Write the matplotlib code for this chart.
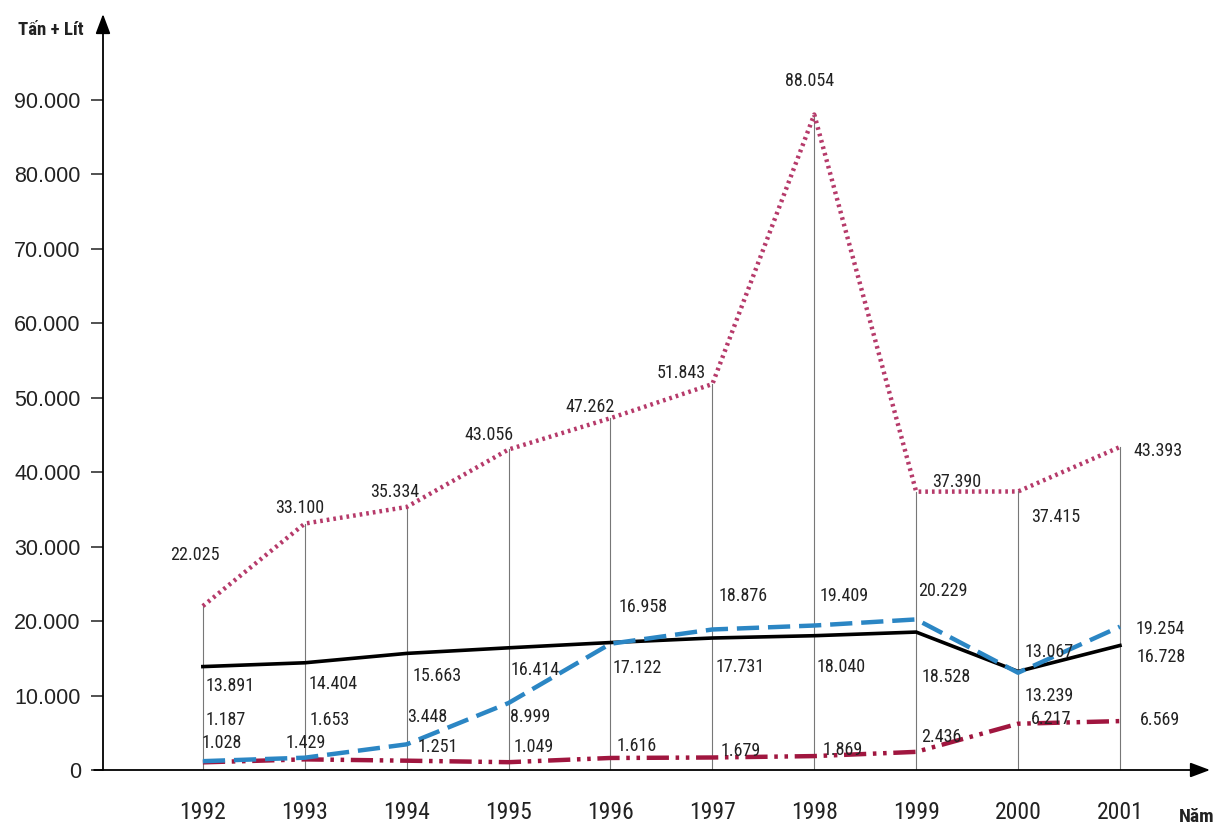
import matplotlib
matplotlib.use("Agg")
import matplotlib.pyplot as plt
from matplotlib.ticker import FixedLocator, FuncFormatter
from matplotlib import font_manager as fm

years = [1992, 1993, 1994, 1995, 1996, 1997, 1998, 1999, 2000, 2001]
dotted_vals = [22025, 33100, 35334, 43056, 47262, 51843, 88054, 37390, 37415, 43393]
black_vals = [13891, 14404, 15663, 16414, 17122, 17731, 18040, 18528, 13239, 16728]
blue_vals = [1187, 1653, 3448, 8999, 16958, 18876, 19409, 20229, 13067, 19254]
red_vals = [1028, 1429, 1251, 1049, 1616, 1679, 1869, 2436, 6217, 6569]
y_ticks = [0, 10000, 20000, 30000, 40000, 50000, 60000, 70000, 80000, 90000]

# label offsets in pixels (dx, dy)
dotted_off = [(-8, 51), (-5, 16), (-12, 15), (-20, 14), (-20, 11), (-31, 11), (-5, 34), (41, 10), (38, -26), (38, -4)]
black_off = [(27, -19), (28, -21), (30, -23), (27, -22), (27, -25), (28, -29), (27, -31), (30, -45), (31, -25), (41, -12)]
blue_off = [(23, 41), (25, 38), (21, 27), (22, -14), (33, 37), (31, 33), (30, 30), (27, 28), (31, 21), (40, -2)]
red_off = [(19, 19), (1, 16), (31, 14), (25, 15), (26, 12), (28, 7), (28, 6), (25, 15), (33, 5), (40, 1)]

# choose a condensed font if one is installed
entries = fm.fontManager.ttflist
names = {f.name for f in entries}
NARROW_PROPS = dict(family=['Liberation Sans', 'DejaVu Sans'])
for cand in ['Roboto Condensed', 'Liberation Sans Narrow', 'Open Sans Condensed', 'Noto Sans Condensed',
             'DejaVu Sans Condensed', 'Arial Narrow']:
    if cand in names:
        NARROW_PROPS = dict(family=[cand, 'DejaVu Sans'])
        break
REG = ['Liberation Sans', 'DejaVu Sans']

def fmt(v):
    return f"{v:,}".replace(",", ".")

W, H = 1218, 833
fig = plt.figure(figsize=(W / 100, H / 100), dpi=100)
fig.patch.set_facecolor('white')
ax = fig.add_axes([103 / W, (H - 770) / H, (1210 - 103) / W, (770 - 14) / H])
ax.set_xlim(1991.02, 1991.02 + 1107 / 101.9)
ax.set_ylim(0, 756 / 74.44 * 10000)
for s in ax.spines.values():
    s.set_visible(False)

# axes with arrows
ax.annotate('', xy=(1.0, 0), xytext=(-0.008, 0), xycoords='axes fraction',
            arrowprops=dict(arrowstyle='-|>,head_length=1.2,head_width=0.45', color='black', lw=1.3,
                            shrinkA=0, shrinkB=0), annotation_clip=False)
ax.annotate('', xy=(0, 1.0), xytext=(0, 0), xycoords='axes fraction',
            arrowprops=dict(arrowstyle='-|>,head_length=1.2,head_width=0.45', color='black', lw=1.3,
                            shrinkA=0, shrinkB=0), annotation_clip=False)

# vertical guide lines
for x, v in zip(years, dotted_vals):
    ax.plot([x, x], [0, v], color='#777777', lw=0.8, zorder=1)

ax.plot(years, dotted_vals, color='#b63a6a', lw=3.2, linestyle=(0, (0.6, 0.9)), zorder=3)
ax.plot(years, black_vals, color='black', lw=2.6, zorder=3)
ax.plot(years, red_vals, color='#a0163f', lw=3.2, linestyle=(0, (5, 1.5, 0.8, 1.5, 0.8, 1.5)), zorder=3)
ax.plot(years, blue_vals, color='#2b86c4', lw=3.2, linestyle=(0, (5, 2)), zorder=4)

def label(vals, offs):
    for x, v, (dx, dy) in zip(years, vals, offs):
        ax.annotate(fmt(v), xy=(x, v), xytext=(dx * 0.72, dy * 0.72), textcoords='offset points',
                    ha='center', va='center', fontsize=13, color='#222222', zorder=5, **NARROW_PROPS)

label(dotted_vals, dotted_off)
label(black_vals, black_off)
label(blue_vals, blue_off)
label(red_vals, red_off)

ax.yaxis.set_major_locator(FixedLocator(y_ticks))
ax.yaxis.set_major_formatter(FuncFormatter(lambda v, p: fmt(int(v))))
ax.tick_params(axis='y', direction='out', length=9, width=1.1, pad=7, labelsize=15.5, colors='#222222')
for t in ax.get_yticklabels():
    t.set_family(REG)
ax.set_xticks(years)
ax.set_xticklabels([str(y) for y in years])
ax.tick_params(axis='x', length=0, pad=22, labelsize=17, colors='#222222')
for t in ax.get_xticklabels():
    t.set_fontproperties(fm.FontProperties(size=17, **NARROW_PROPS))

fig.text(84 / W, 1 - 30 / H, 'Tấn + Lít', ha='right', va='center', fontsize=13.5,
         fontweight='bold', color='#222222', **NARROW_PROPS)
fig.text(1214 / W, 1 - 817 / H, 'Năm', ha='right', va='center', fontsize=14,
         fontweight='bold', color='#222222', **NARROW_PROPS)

fig.savefig('out.png', dpi=100, facecolor='white')
